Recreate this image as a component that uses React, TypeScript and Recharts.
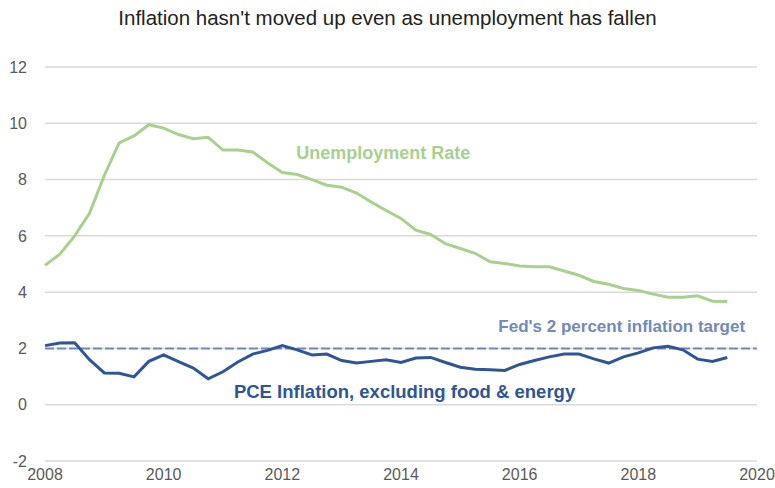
import React from "react";
import {
  LineChart,
  Line,
  XAxis,
  YAxis,
  CartesianGrid,
  ReferenceLine,
  ReferenceDot,
} from "recharts";

// Quarterly dates (decimal years), 2008Q1 .. 2019Q3
const quarters: number[] = [
  2008, 2008.25, 2008.5, 2008.75,
  2009, 2009.25, 2009.5, 2009.75,
  2010, 2010.25, 2010.5, 2010.75,
  2011, 2011.25, 2011.5, 2011.75,
  2012, 2012.25, 2012.5, 2012.75,
  2013, 2013.25, 2013.5, 2013.75,
  2014, 2014.25, 2014.5, 2014.75,
  2015, 2015.25, 2015.5, 2015.75,
  2016, 2016.25, 2016.5, 2016.75,
  2017, 2017.25, 2017.5, 2017.75,
  2018, 2018.25, 2018.5, 2018.75,
  2019, 2019.25, 2019.5,
];

const unemploymentRate: number[] = [
  4.95, 5.35, 6.0, 6.8,
  8.15, 9.3, 9.55, 9.95,
  9.83, 9.6, 9.45, 9.5,
  9.05, 9.05, 8.98, 8.6,
  8.25, 8.18, 8.0, 7.8,
  7.73, 7.52, 7.2, 6.9,
  6.62, 6.2, 6.05, 5.72,
  5.55, 5.38, 5.08, 5.02,
  4.93, 4.9, 4.9, 4.75,
  4.6, 4.38, 4.28, 4.13,
  4.06, 3.93, 3.82, 3.82,
  3.87, 3.68, 3.67,
];

const pceInflation: number[] = [
  2.1, 2.19, 2.2, 1.6,
  1.13, 1.12, 0.99, 1.54,
  1.77, 1.53, 1.3, 0.92,
  1.17, 1.52, 1.8, 1.93,
  2.1, 1.95, 1.77, 1.8,
  1.57, 1.48, 1.54, 1.6,
  1.5, 1.66, 1.68, 1.5,
  1.33, 1.26, 1.24, 1.22,
  1.43, 1.57, 1.7, 1.8,
  1.8, 1.63, 1.48, 1.7,
  1.84, 2.02, 2.08, 1.95,
  1.62, 1.54, 1.68,
];

const xTicks: number[] = [2008, 2010, 2012, 2014, 2016, 2018, 2020];
const yTicks: number[] = [-2, 0, 2, 4, 6, 8, 10, 12];
const inflationTarget = 2;

const title = "Inflation hasn't moved up even as unemployment has fallen";

const data = quarters.map((q, i) => ({
  date: q,
  unemployment: unemploymentRate[i],
  pce: pceInflation[i],
}));

const FONT = "'Liberation Sans', Arial, sans-serif";
const GREEN = "#a9d08e";
const BLUE = "#2f5597";
const TARGET = "#7388bd";

const textLabel = (text: string, color: string, size: number) => (props: any) => {
  const { viewBox } = props;
  const cx = viewBox.x + (viewBox.width || 0) / 2;
  const cy = viewBox.y + (viewBox.height || 0) / 2;
  return (
    <text
      x={cx}
      y={cy}
      textAnchor="middle"
      dominantBaseline="central"
      fill={color}
      fontFamily={FONT}
      fontWeight="bold"
      fontSize={size}
    >
      {text}
    </text>
  );
};

export default function App() {
  return (
    <div
      style={{
        position: "absolute",
        left: 0,
        top: 0,
        width: 775,
        height: 488,
        background: "#ffffff",
        fontFamily: FONT,
      }}
    >
      <div
        style={{
          position: "absolute",
          left: 0,
          top: 6,
          width: 775,
          textAlign: "center",
          fontSize: 20.5,
          color: "#222222",
          fontFamily: FONT,
        }}
      >
        {title}
      </div>
      <LineChart
        width={775}
        height={488}
        data={data}
        margin={{ top: 67, right: 18, bottom: 6, left: 0 }}
      >
        <CartesianGrid vertical={false} stroke="#d9d9d9" strokeWidth={1.5} />
        <XAxis
          dataKey="date"
          type="number"
          domain={[2008, 2020]}
          ticks={xTicks}
          axisLine={false}
          tickLine={false}
          height={21}
          tick={{ fill: "#595959", fontSize: 16, fontFamily: FONT }}
          interval={0}
        />
        <YAxis
          type="number"
          domain={[-2, 12]}
          ticks={yTicks}
          axisLine={false}
          tickLine={false}
          width={45}
          tick={{ fill: "#595959", fontSize: 16, fontFamily: FONT, dx: -10 }}
          interval={0}
        />
        <ReferenceLine
          y={inflationTarget}
          stroke={TARGET}
          strokeWidth={2}
          strokeDasharray="9 3"
        />
        <Line
          type="linear"
          dataKey="unemployment"
          stroke={GREEN}
          strokeWidth={3}
          dot={false}
          isAnimationActive={false}
        />
        <Line
          type="linear"
          dataKey="pce"
          stroke={BLUE}
          strokeWidth={3}
          dot={false}
          isAnimationActive={false}
        />
        <ReferenceDot
          x={2013.7}
          y={8.94}
          r={0}
          fill="none"
          stroke="none"
          label={textLabel("Unemployment Rate", GREEN, 18)}
        />
        <ReferenceDot
          x={2017.72}
          y={2.77}
          r={0}
          fill="none"
          stroke="none"
          label={textLabel("Fed's 2 percent inflation target", TARGET, 17)}
        />
        <ReferenceDot
          x={2014.06}
          y={0.46}
          r={0}
          fill="none"
          stroke="none"
          label={textLabel("PCE Inflation, excluding food & energy", BLUE, 18.5)}
        />
      </LineChart>
    </div>
  );
}
